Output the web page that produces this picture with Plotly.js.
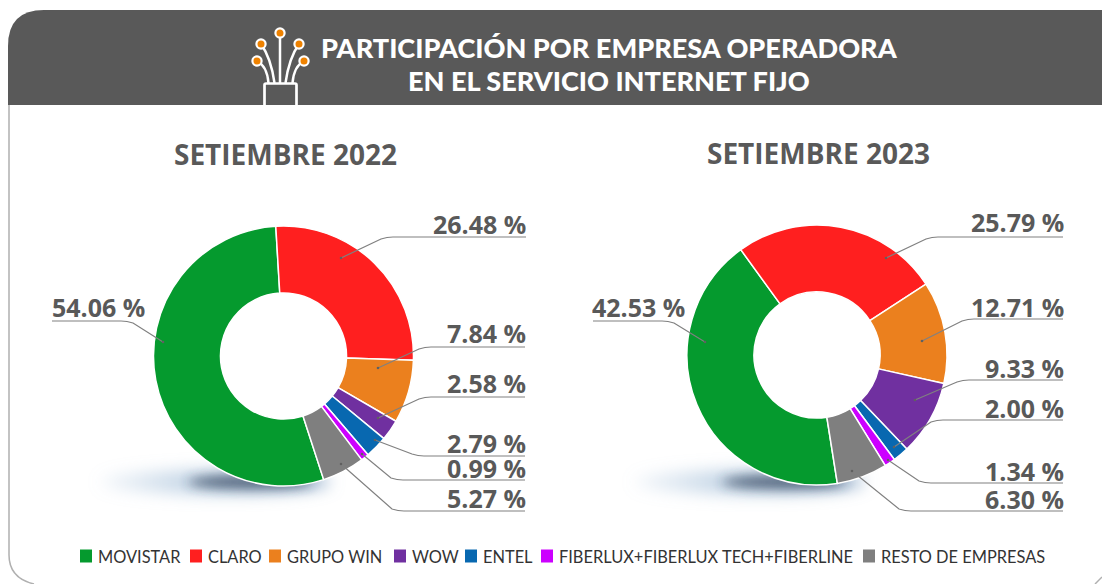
<!DOCTYPE html>
<html><head><meta charset="utf-8">
<script src="https://cdn.plot.ly/plotly-3.0.1.min.js"></script>
<style>html,body{margin:0;padding:0;background:#fff;overflow:hidden}#c{width:1102px;height:584px}</style>
</head><body><div id="c"></div>
<script>
const categories = ["MOVISTAR","CLARO","GRUPO WIN","WOW","ENTEL","FIBERLUX+FIBERLUX TECH+FIBERLINE","RESTO DE EMPRESAS"];
const sep2022 = [54.06,26.48,7.84,2.58,2.79,0.99,5.27];
const sep2023 = [42.53,25.79,12.71,9.33,2.00,1.34,6.30];
const colors = ["#059A2E","#FF1F1F","#EB801E","#7030A0","#0868B0","#CC00FF","#7F7F7F"];
const periodTitles = ["SETIEMBRE 2022","SETIEMBRE 2023"];
const mainTitle = ["PARTICIPACIÓN POR EMPRESA OPERADORA","EN EL SERVICIO INTERNET FIJO"];

const W=1102,H=584;
const px=x=>x/W, py=y=>1-y/H;
const grayText="#595959";
// leader geometry per label: anchor dot, elbow, end x, label y, label right edge
const leaders2022=[
 [163,342,127,321,52,307,146],[341,258,387,237,526,223.5,527],[378,368,425,347,525,333,527],
 [378,418,425,397,525,383,527],[375,440,418,456,525,443,527],[362,454,397,480,525,468,527],[341,464,398,511,525,498,527]];
const leaders2023=[
 [705,342,668,321,593,307,686],[886,258,932,237,1063,222,1065],[922,341,968,319,1063,307,1065],
 [915,400,963,380,1063,368,1065],[894,447,937,420,1063,408,1065],[888,460,925,483,1063,471,1065],[852,471,905,511,1063,499,1065]];

function pie(vals,cx,cy,r,rot){
  return {type:"pie",labels:categories,values:vals,sort:false,direction:"clockwise",rotation:rot,hole:0.485,
    marker:{colors:colors,line:{color:"#fff",width:1.5}},textinfo:"none",hoverinfo:"label+percent",showlegend:false,
    domain:{x:[px(cx-r),px(cx+r)],y:[py(cy+r),py(cy-r)]}};
}
const data=[pie(sep2022,283.5,356,130,162),pie(sep2023,817,355,130,171)];

const shapes=[];const annotations=[];
const P=(d,o)=>shapes.push(Object.assign({type:"path",xref:"paper",yref:"paper",path:d,layer:"below"},o));
const fmtPath=s=>s.replace(/(-?[\d.]+),(-?[\d.]+)/g,(m,a,b)=>px(+a)+","+py(+b));
// panel
P(fmtPath("M9,105 L9,555 Q9,578 34,584"),{line:{color:"#b0b0b0",width:1.5}});
P(fmtPath("M1095,584 L1102,577"),{line:{color:"#b0b0b0",width:1.5}});
P(fmtPath("M8,105 L8,46 Q8,10 44,10 L1102,10 L1102,105 Z"),{fillcolor:"#595959",line:{width:0}});
// icon
const w={color:"#fff",width:2.5};
P(fmtPath("M264.5,105 L264.5,85 Q264.5,83.5 266,83.5 L295,83.5 Q296.5,83.5 296.5,85 L296.5,105"),{line:{color:"#fff",width:2.7}});
P(fmtPath("M280,33 L280,83"),{line:w});
P(fmtPath("M261,44 Q271,58 274.5,83"),{line:w});
P(fmtPath("M299,44 Q289,58 285.5,83"),{line:w});
P(fmtPath("M257,61 Q267,66 268.5,83"),{line:w});
P(fmtPath("M304,61 Q294,66 292.5,83"),{line:w});
[[280,33],[261,44],[299,44],[257,61],[304,61]].forEach(([x,y])=>{
  shapes.push({type:"circle",xref:"paper",yref:"paper",x0:px(x-4.6),x1:px(x+4.6),y0:py(y+4.6),y1:py(y-4.6),fillcolor:"#EF8200",line:{color:"#fff",width:2.2},layer:"below"});
});
// leaders and labels
function addLabels(vals,lead){
  vals.forEach((v,i)=>{
    const [dx,dy,ex,ey,endx,ly,rx]=lead[i];
    const dir=endx>ex?1:-1;
    const d=`M${dx},${dy} L${ex-dir*6},${ey+(dy>ey?2:-2)} Q${ex},${ey} ${ex+dir*6},${ey} L${endx},${ey}`;
    shapes.push({type:"path",xref:"paper",yref:"paper",path:fmtPath(d),line:{color:"#808080",width:1.2},layer:"above"});
    shapes.push({type:"circle",xref:"paper",yref:"paper",x0:px(dx-1.3),x1:px(dx+1.3),y0:py(dy+1.3),y1:py(dy-1.3),fillcolor:"#606060",line:{width:0},layer:"above"});
    annotations.push({xref:"paper",yref:"paper",x:px(rx),y:py(ly),xanchor:"right",yanchor:"middle",showarrow:false,height:24,borderpad:0,
      text:"<b>"+v.toFixed(2)+" %</b>",font:{family:"Open Sans",size:25,color:grayText}});
  });
}
addLabels(sep2022,leaders2022);addLabels(sep2023,leaders2023);
// titles
[[609.5,47],[609,80]].forEach(([x,y],i)=>annotations.push({xref:"paper",yref:"paper",x:px(x),y:py(y),xanchor:"center",yanchor:"middle",showarrow:false,
  text:mainTitle[i],font:{family:"Lato",size:27.1,weight:900,color:"#fff"}}));
[[285,154],[818,153]].forEach(([x,y],i)=>annotations.push({xref:"paper",yref:"paper",x:px(x),y:py(y),xanchor:"center",yanchor:"middle",showarrow:false,
  text:"<b>"+periodTitles[i]+"</b>",font:{family:"Open Sans",size:28,color:grayText}}));
// key
const keyX=[80,190,269,394,465,541,863];
categories.forEach((c,i)=>{
  shapes.push({type:"rect",xref:"paper",yref:"paper",x0:px(keyX[i]),x1:px(keyX[i]+12),y0:py(562.5),y1:py(549.5),fillcolor:colors[i],line:{width:0},layer:"below"});
  annotations.push({xref:"paper",yref:"paper",x:px(keyX[i]+16),y:py(556),xanchor:"left",yanchor:"middle",showarrow:false,
    text:c,font:{family:"Lato",size:16.4,color:"#333333"}});
});
// soft shadow below the doughnuts
const shadow="data:image/svg+xml;base64,"+btoa(`<svg xmlns="http://www.w3.org/2000/svg" width="320" height="100" viewBox="0 0 320 100"><defs><linearGradient id="g" x1="0" x2="1" y1="0" y2="0"><stop offset="0" stop-color="#9fbbd6" stop-opacity="0.15"/><stop offset="0.5" stop-color="#8fb0cf" stop-opacity="0.65"/><stop offset="1" stop-color="#7f9fc2" stop-opacity="0.9"/></linearGradient><filter id="a" x="-50%" y="-200%" width="200%" height="500%"><feGaussianBlur stdDeviation="8"/></filter><filter id="b" x="-50%" y="-200%" width="200%" height="500%"><feGaussianBlur stdDeviation="6"/></filter></defs><ellipse cx="155" cy="42" rx="115" ry="12" fill="url(#g)" filter="url(#a)"/><ellipse cx="190" cy="42" rx="62" ry="6" fill="#2b3a52" opacity="0.75" filter="url(#b)"/></svg>`);
const images=[60,594].map(x=>({source:shadow,xref:"paper",yref:"paper",x:px(x),y:py(440),sizex:320/W,sizey:100/H,xanchor:"left",yanchor:"top",sizing:"stretch",layer:"below"}));

Plotly.newPlot("c",data,{width:W,height:H,margin:{l:0,r:0,t:0,b:0},paper_bgcolor:"#fff",showlegend:false,shapes,annotations,images},{displayModeBar:false,staticPlot:false});
</script></body></html>
